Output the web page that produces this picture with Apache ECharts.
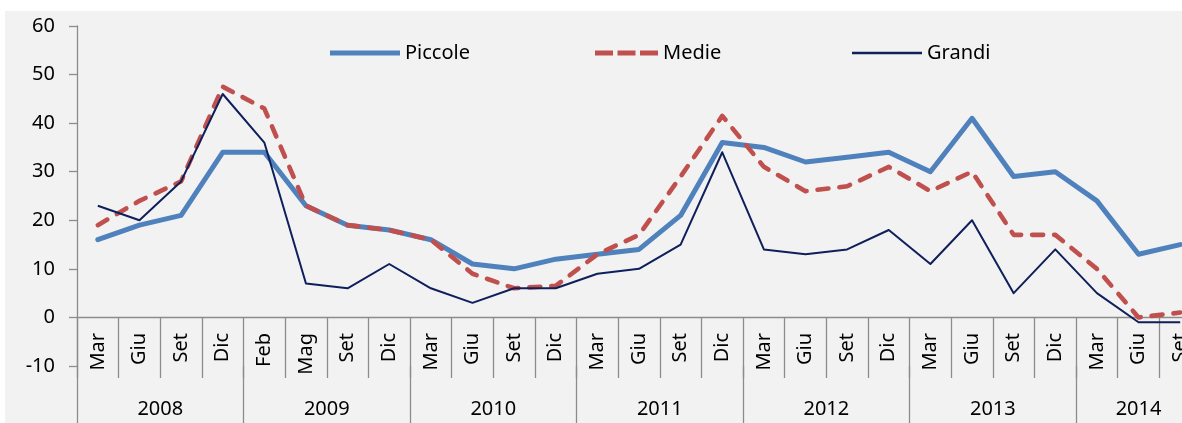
<!DOCTYPE html>
<html>
<head>
<meta charset="utf-8">
<script src="https://cdn.jsdelivr.net/npm/echarts@6/dist/echarts.min.js"></script>
<style>
  html, body { margin: 0; padding: 0; background: #ffffff; overflow: hidden; width: 1182px; height: 423px; }
  #bg { position: absolute; left: 5px; top: 11px; width: 1177px; height: 412px; background: #f2f2f2; }
  #chart { position: absolute; left: 0; top: 0; width: 1260px; height: 423px; }
</style>
</head>
<body>
<div id="bg"></div>
<div id="chart"></div>
<script>
const months = ['Mar','Giu','Set','Dic','Feb','Mag','Set','Dic','Mar','Giu','Set','Dic','Mar','Giu','Set','Dic','Mar','Giu','Set','Dic','Mar','Giu','Set','Dic','Mar','Giu','Set'];
const years = ['2008','2009','2010','2011','2012','2013','2014'];
const yearStart = [0, 4, 8, 12, 16, 20, 24];
const yearEnd = [4, 8, 12, 16, 20, 24, 27];
const yTicks = [-10, 0, 10, 20, 30, 40, 50, 60];

const piccole = [16,19,21,34,34,23,19,18,16,11,10,12,13,14,21,36,35,32,33,34,30,41,29,30,24,13,15];
const medie   = [19,24,28,47.5,43,23,19,18,16,9,6,6.5,13,17,29,41.5,31,26,27,31,26,30,17,17,10,0,1];
const grandi  = [23,20,28,46,36,7,6,11,6,3,6,6,9,10,15,34,14,13,14,18,11,20,5,14,5,-1,-1];

const yearCenters = years.map((y, i) => (yearStart[i] + yearEnd[i]) / 2);
const yearByCenter = {};
years.forEach((y, i) => { yearByCenter[yearCenters[i]] = y; });
const monthBounds = months.map((m, i) => i);

const FONT = 'Noto Sans';
const GRAY = '#8c8c8c';
const ZERO_OFFSET = -49; // grid bottom (-10) to the 0 line
const legendText = { fontSize: 20, color: '#000', fontFamily: FONT };

const chart = echarts.init(document.getElementById('chart'));
chart.setOption({
  animation: false,
  backgroundColor: 'transparent',
  textStyle: { fontFamily: FONT },
  grid: { left: 77, top: 26, width: 1124, height: 340, outerBoundsMode: 'none', containLabel: false },
  legend: [
    { data: [{ name: 'Piccole', icon: 'path://M0,0h70v5h-70z' }], left: 325, top: 38,
      itemWidth: 70, itemHeight: 5, itemGap: 5, textStyle: legendText },
    { data: [{ name: 'Medie', icon: 'path://M0,0h18v5h-18zM22.5,0h18v5h-18zM45,0h18v5h-18z' }], left: 590, top: 38,
      itemWidth: 63, itemHeight: 5, itemGap: 16, textStyle: legendText },
    { data: [{ name: 'Grandi', icon: 'path://M0,0h70v2.5h-70z' }], left: 847, top: 38,
      itemWidth: 70, itemHeight: 2.5, itemGap: 7, textStyle: legendText }
  ],
  xAxis: [
    {
      type: 'category',
      data: months,
      position: 'bottom',
      offset: ZERO_OFFSET,
      boundaryGap: true,
      axisLine: { onZero: false, lineStyle: { color: GRAY, width: 1.3 } },
      axisTick: { show: false },
      axisLabel: { interval: 0, rotate: 90, margin: 16, fontSize: 20, color: '#000', fontFamily: FONT },
      splitLine: { show: false }
    },
    {
      type: 'value',
      min: 0,
      max: 27,
      position: 'bottom',
      axisLine: { show: false, onZero: false },
      axisTick: { show: true, length: 60, customValues: yearStart, lineStyle: { color: GRAY, width: 1.3 } },
      axisLabel: { show: true, customValues: yearCenters, margin: 33, fontSize: 20, color: '#000', fontFamily: FONT,
        formatter: (v) => yearByCenter[v] || '' },
      splitLine: { show: false }
    },
    {
      type: 'value',
      min: 0,
      max: 27,
      position: 'bottom',
      offset: ZERO_OFFSET,
      axisLine: { show: false, onZero: false },
      axisTick: { show: true, length: 61, customValues: monthBounds, lineStyle: { color: GRAY, width: 1.3 } },
      axisLabel: { show: false },
      splitLine: { show: false }
    }
  ],
  yAxis: {
    type: 'value',
    min: yTicks[0],
    max: yTicks[yTicks.length - 1],
    interval: 10,
    axisLine: { show: true, lineStyle: { color: GRAY, width: 1.3 } },
    axisTick: { show: true, length: 8, lineStyle: { color: GRAY, width: 1.3 } },
    axisLabel: { margin: 22, fontSize: 20, color: '#000', fontFamily: FONT },
    splitLine: { show: false }
  },
  series: [
    { name: 'Piccole', type: 'line', data: piccole, symbol: 'none', showSymbol: false,
      itemStyle: { color: '#4f81bd' },
      lineStyle: { color: '#4f81bd', width: 5, cap: 'round', join: 'round' } },
    { name: 'Medie', type: 'line', data: medie, symbol: 'none', showSymbol: false,
      itemStyle: { color: '#c0504d' },
      lineStyle: { color: '#c0504d', width: 4.6, type: [11, 11], cap: 'round', join: 'round' } },
    { name: 'Grandi', type: 'line', data: grandi, symbol: 'none', showSymbol: false,
      itemStyle: { color: '#0e1f5b' },
      lineStyle: { color: '#0e1f5b', width: 2, join: 'round' } }
  ]
});
</script>
</body>
</html>
